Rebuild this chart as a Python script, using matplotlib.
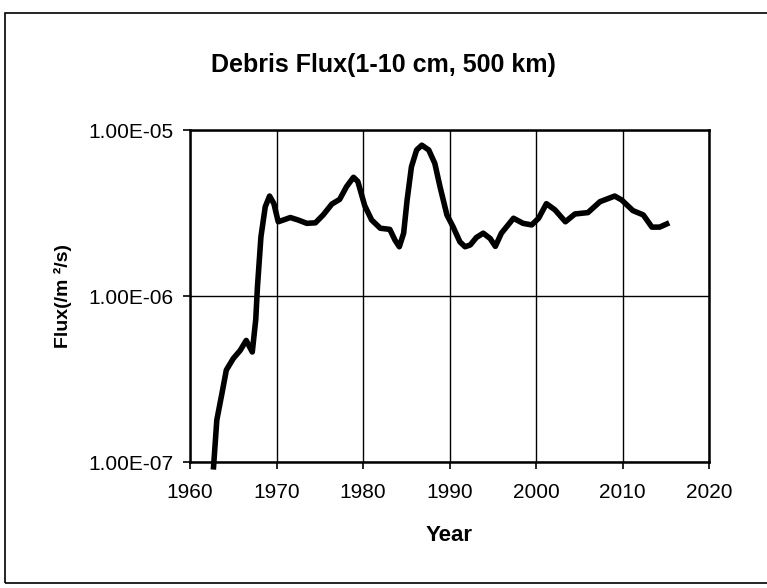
import matplotlib
matplotlib.use("Agg")
import matplotlib.pyplot as plt
from matplotlib.ticker import FixedLocator
from matplotlib.patches import Rectangle

years = [1962.7, 1963.1, 1963.7, 1964.2, 1965.0, 1965.8, 1966.5, 1967.2, 1967.6, 1967.8,
         1968.2, 1968.7, 1969.2, 1969.7, 1970.2, 1970.8, 1971.6, 1972.5, 1973.5, 1974.5,
         1975.4, 1976.4, 1977.3, 1978.1, 1978.9, 1979.4, 1980.2, 1981.0, 1982.0, 1983.1,
         1983.7, 1984.2, 1984.7, 1985.1, 1985.6, 1986.2, 1986.8, 1987.6, 1988.3, 1988.9,
         1989.7, 1990.4, 1991.2, 1991.8, 1992.4, 1993.1, 1993.9, 1994.7, 1995.3, 1996.0,
         1997.4, 1998.5, 1999.5, 2000.3, 2001.2, 2002.2, 2003.4, 2004.5, 2006.0, 2007.4,
         2009.1, 2009.9, 2011.2, 2012.4, 2013.4, 2014.3, 2015.4]
flux = [9.0e-8, 1.79e-7, 2.6e-7, 3.58e-7, 4.2e-7, 4.7e-7, 5.4e-7, 4.6e-7, 7.2e-7, 1.14e-6,
        2.27e-6, 3.45e-6, 4.0e-6, 3.6e-6, 2.8e-6, 2.87e-6, 2.97e-6, 2.87e-6, 2.74e-6, 2.76e-6,
        3.08e-6, 3.58e-6, 3.82e-6, 4.56e-6, 5.19e-6, 4.9e-6, 3.5e-6, 2.87e-6, 2.56e-6, 2.52e-6,
        2.17e-6, 1.98e-6, 2.39e-6, 3.79e-6, 6.0e-6, 7.58e-6, 8.1e-6, 7.58e-6, 6.3e-6, 4.56e-6,
        3.08e-6, 2.62e-6, 2.12e-6, 1.98e-6, 2.03e-6, 2.25e-6, 2.39e-6, 2.22e-6, 1.99e-6, 2.39e-6,
        2.94e-6, 2.74e-6, 2.68e-6, 2.94e-6, 3.6e-6, 3.3e-6, 2.8e-6, 3.12e-6, 3.18e-6, 3.7e-6,
        4.0e-6, 3.79e-6, 3.27e-6, 3.08e-6, 2.6e-6, 2.6e-6, 2.76e-6]

x_ticks = [1960, 1970, 1980, 1990, 2000, 2010, 2020]
y_ticks = [1e-7, 1e-6, 1e-5]
y_tick_labels = ["1.00E-07", "1.00E-06", "1.00E-05"]
title = "Debris Flux(1-10 cm, 500 km)"
xlabel = "Year"
ylabel = "Flux(/m \u00b2/s)"

plt.rcParams['font.family'] = ['Liberation Sans', 'DejaVu Sans']

fig = plt.figure(figsize=(7.67, 5.88), dpi=100)
ax = fig.add_axes([190/767, 1-462/588, (709-190)/767, (462-130)/588])

ax.plot(years, flux, color='black', lw=4.0, solid_capstyle='butt', solid_joinstyle='round',
        clip_on=False, zorder=3)
ax.set_yscale('log')
ax.set_xlim(1960, 2020)
ax.set_ylim(1e-7, 1e-5)
ax.xaxis.set_major_locator(FixedLocator(x_ticks))
ax.yaxis.set_major_locator(FixedLocator(y_ticks))
ax.yaxis.set_minor_locator(FixedLocator([]))
ax.set_yticklabels(y_tick_labels)
ax.grid(True, which='major', color='black', lw=1.0)
for s in ax.spines.values():
    s.set_linewidth(1.8)
ax.tick_params(axis='both', which='major', labelsize=15, direction='out', length=5, width=1.2)
ax.tick_params(axis='y', pad=7)
ax.tick_params(axis='x', pad=10)

ax.set_xlabel(xlabel, fontsize=16, fontweight='bold')
ax.xaxis.set_label_coords(0.5, -0.19)
ax.set_ylabel(ylabel, fontsize=14, fontweight='bold')
ax.yaxis.set_label_coords(-0.228, 0.5)
fig.text(383/767, 1-65/588, title, ha='center', va='center', fontsize=18, fontweight='bold')

fig.patches.append(Rectangle((5/767, 0.008), 1.2, 1-13/588-0.008, transform=fig.transFigure,
                             fill=False, edgecolor='black', lw=1.2))

fig.savefig("out.png", dpi=100)
